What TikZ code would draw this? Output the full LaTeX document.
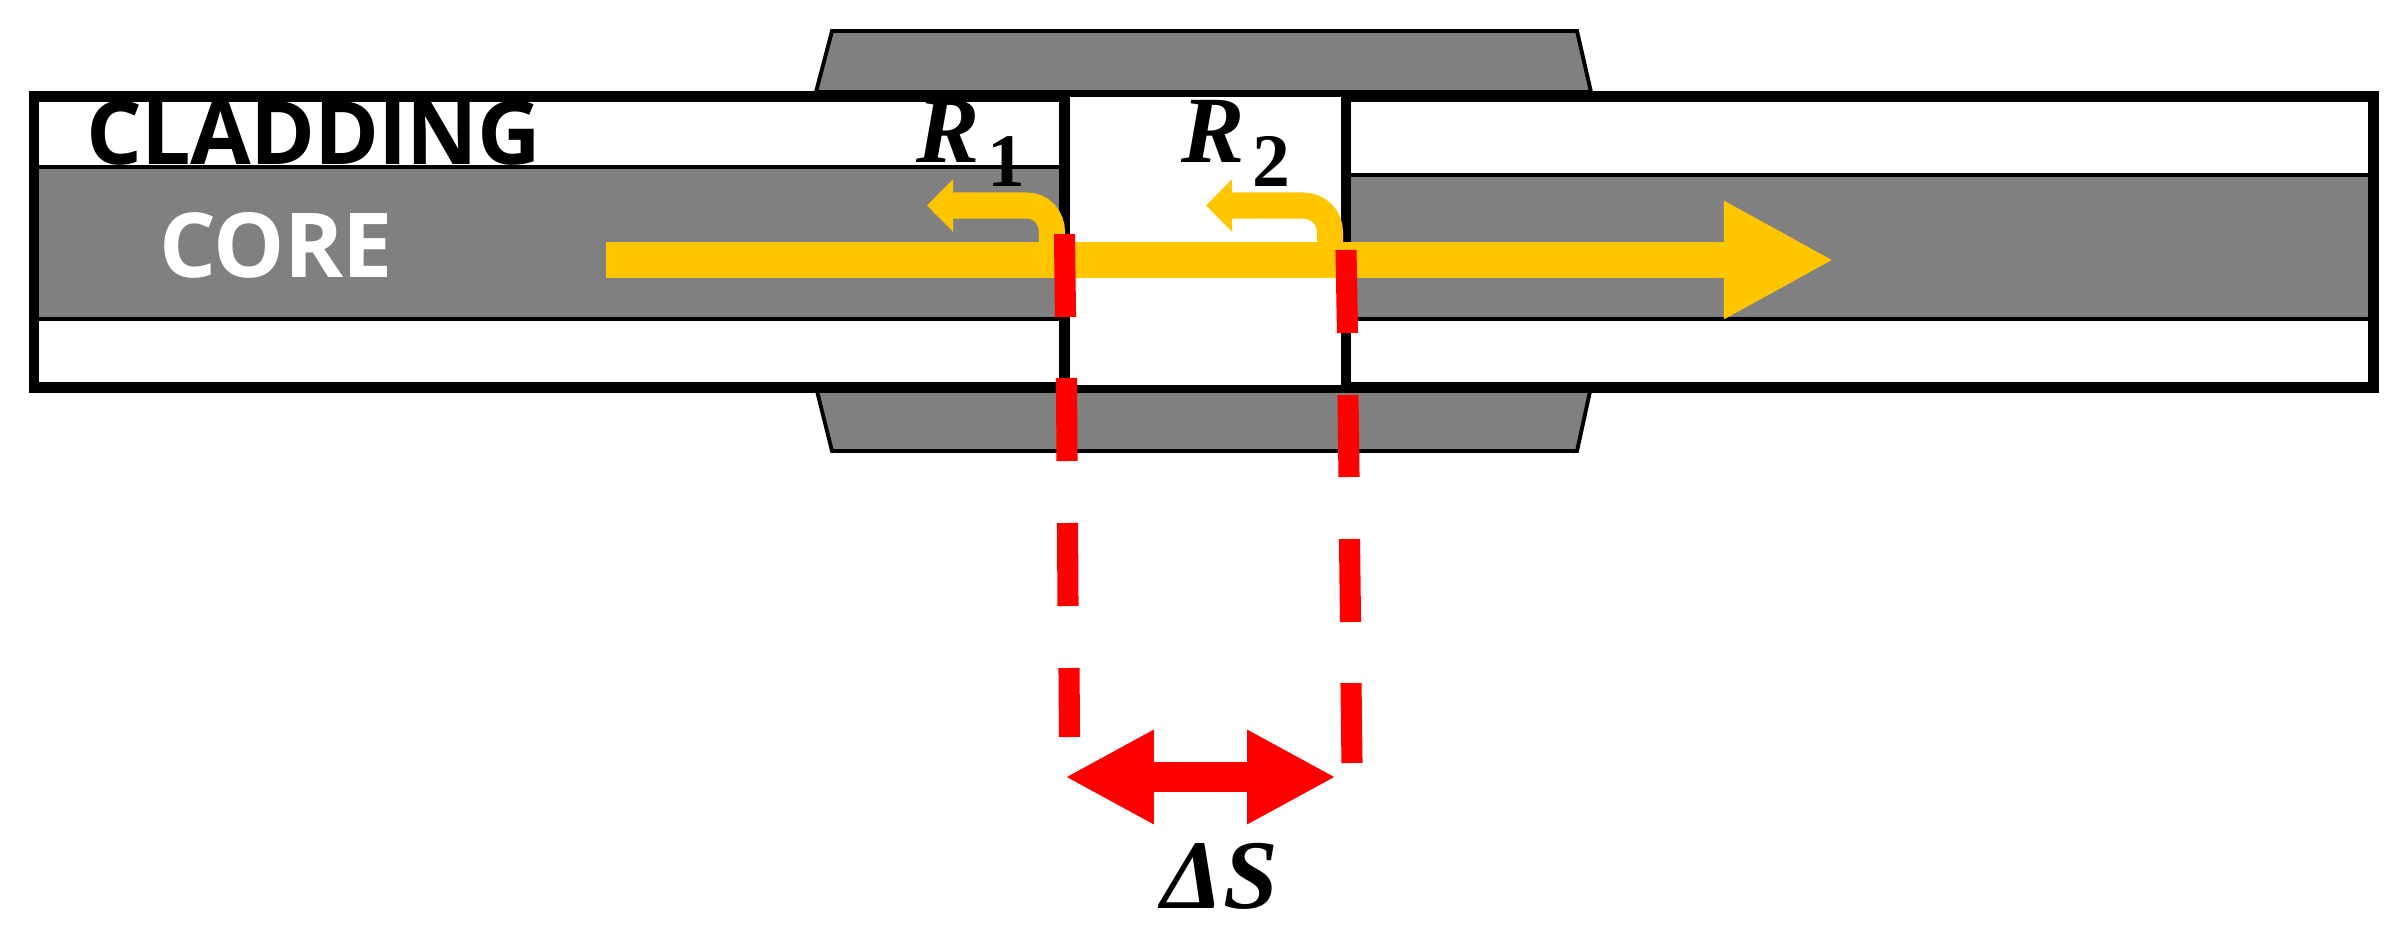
\documentclass[tikz,border=0pt]{standalone}
\usepackage{fontspec}
\usetikzlibrary{arrows.meta}
\newfontfamily\fibrefont[LetterSpace=-1]{Open Sans}
\newfontfamily\symbfont{Liberation Serif}
\definecolor{coregray}{HTML}{808080}
\definecolor{lightray}{HTML}{FFC600}
\definecolor{gapred}{HTML}{FF0000}
\newcommand{\reflabel}[1]{{\bfseries\itshape R}\hspace{2pt}\raisebox{-7pt}{\bfseries\fontsize{21.5}{24}\selectfont #1}}
\tikzset{
  sleeve/.style={fill=coregray,draw=black,line width=1.1pt,line join=miter},
  corefill/.style={fill=coregray,draw=none},
  coreline/.style={line width=1.15pt},
  fibreend/.style={line width=3pt},
  redbar/.style={gapred,line width=6pt},
  mainray/.style={lightray,line width=10.25pt,-{Triangle[length=31.3pt,width=31.3pt]}},
  backray/.style={lightray,line width=7.4pt,-{Triangle[length=7.4pt,width=14.5pt]}},
  gaparrow/.style={gapred,line width=8.5pt,{Triangle[length=25.3pt,width=25pt]}-{Triangle[length=25.3pt,width=25pt]}},
  textlabel/.style={inner sep=0pt,font=\fibrefont\bfseries\fontsize{25}{28}\selectfont},
  mathlabel/.style={inner sep=0pt,font=\symbfont\fontsize{27}{30}\selectfont}
}
\begin{document}
\begin{tikzpicture}
        [x=0.01cm,y=-0.01cm]
        \useasboundingbox (0,0) rectangle (2405,939);

        \draw[sleeve] (816,92) -- (832,31) -- (1577,31) -- (1591,92) -- cycle;
        \draw[sleeve] (816,387) -- (832,451) -- (1577,451) -- (1591,387) -- cycle;

        \fill[corefill] (36,167) rectangle (1065,319);
        \fill[corefill] (1346,175) rectangle (2370,319);
        \draw[coreline] (36,167) -- (1065,167);
        \draw[coreline] (36,319) -- (1065,319);
        \draw[coreline] (1346,175) -- (2370,175);
        \draw[coreline] (1346,319) -- (2370,319);

        \draw[line width=3.1pt] (34,96.5) rectangle (2373.5,387.5);
        \fill[white] (1070,97) rectangle (1341,385);
        \draw[fibreend] (1064.5,92) -- (1064.5,392);
        \draw[fibreend] (1346,92) -- (1346,392);

        \coordinate (rayin) at (606,260);
        \coordinate (rayout) at (1834,260);
        \coordinate (back1) at (1052,246);
        \coordinate (backtip1) at (927,205.5);
        \coordinate (back2) at (1330,250);
        \coordinate (backtip2) at (1206,205.5);
        \draw[backray] (back1) -- (1052,232) .. controls (1052,217) and (1041,205.5) .. (1027,205.5) -- (backtip1);
        \draw[backray] (back2) -- (1330,232) .. controls (1330,217) and (1318,205.5) .. (1303,205.5) -- (backtip2);
        \draw[mainray] (rayin) -- (rayout);

        \foreach \xa/\ya/\xb/\yb in {1064.5/234/1065.5/317,1066.5/378/1067/461,1067.5/523/1068/606,1069/668/1069.5/737,
          1346/250/1347.5/333,1348/395/1349/477,1349.5/539/1350.5/622,1351/683/1352/763}
          \draw[redbar] (\xa,\ya) -- (\xb,\yb);

        \coordinate (gapleft) at (1065,777);
        \coordinate (gapright) at (1336,777);
        \draw[gaparrow] (gapleft) -- (gapright);

        \node[textlabel] (cladding) at (314,133) {CLADDING};
        \node[textlabel,text=white,font=\fibrefont\bfseries\fontsize{25.5}{28}\selectfont] (core) at (276,245) {CORE};
        \node[mathlabel,anchor=base west] (r1) at (916,162) {\reflabel{1}};
        \node[mathlabel,anchor=base west] (r2) at (1181,162) {\reflabel{2}};
        \node[mathlabel,anchor=base,font=\symbfont\bfseries\itshape\fontsize{28}{32}\selectfont] (ds) at (1220,908) {ΔS};
      \end{tikzpicture}
\end{document}
